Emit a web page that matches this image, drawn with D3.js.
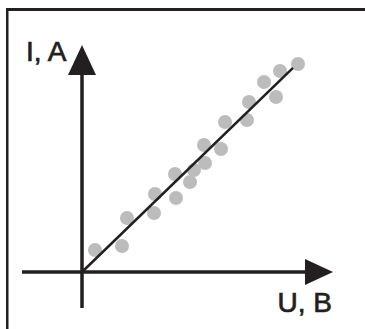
<!DOCTYPE html>
<html>
<head>
<meta charset="utf-8">
<script src="https://cdn.jsdelivr.net/npm/d3@7"></script>
<style>
  html, body { margin: 0; padding: 0; background: #fff; }
  svg { display: block; }
</style>
</head>
<body>
<svg id="chart" width="365" height="329"></svg>
<script>
// Measured voltage (U) and current (I) pairs, arbitrary units
const voltage = [5.2, 16, 18, 28.8, 29.2, 37.6, 37.2, 43.2, 44.8, 49.2, 48.8, 55.6, 57.2, 66, 66.8, 77.6, 72.8, 79.2, 86.4];
const current = [8.8, 10.4, 21.6, 23.6, 31.2, 29.6, 39.2, 36, 40.8, 43.6, 50.8, 49.2, 60, 60.8, 68, 70, 76, 80.4, 83.2];

// Linear fit through the origin
const fitSlope = 0.967;
const fitEnd = 84.4;

// Axis extents and labels
const xAxisRange = [-24, 100.4];
const yAxisRange = [-14.4, 90.8];
const xLabel = "U, B";
const yLabel = "I, A";

const svg = d3.select("#chart");
const ink = "#231f20";

const x = d3.scaleLinear().domain([0, 100]).range([82, 332]);
const y = d3.scaleLinear().domain([0, 100]).range([272, 22]);

// Frame: top and left rules
svg.append("rect").attr("x", 6).attr("y", 8).attr("width", 359).attr("height", 3).attr("fill", ink);
svg.append("rect").attr("x", 6).attr("y", 8).attr("width", 2.5).attr("height", 321).attr("fill", ink);

// Data points
svg.append("g").selectAll("circle")
  .data(voltage.map((u, i) => ({ u, i: current[i] })))
  .join("circle")
  .attr("cx", d => x(d.u))
  .attr("cy", d => y(d.i))
  .attr("r", 7)
  .attr("fill", "#bcbcbc");

// Axes
svg.append("line")
  .attr("x1", x(xAxisRange[0])).attr("x2", x(xAxisRange[1]) - 20)
  .attr("y1", y(0)).attr("y2", y(0))
  .attr("stroke", ink).attr("stroke-width", 3.5);
svg.append("line")
  .attr("x1", x(0)).attr("x2", x(0))
  .attr("y1", y(yAxisRange[0])).attr("y2", y(yAxisRange[1]) + 20)
  .attr("stroke", ink).attr("stroke-width", 3.5);

// Arrowheads
const xt = [x(xAxisRange[1]), y(0)];
svg.append("path")
  .attr("d", `M${xt[0]},${xt[1]} L${xt[0] - 28},${xt[1] - 13} L${xt[0] - 28},${xt[1] + 13} Z`)
  .attr("fill", ink);
const yt = [x(0), y(yAxisRange[1])];
svg.append("path")
  .attr("d", `M${yt[0]},${yt[1]} L${yt[0] - 14},${yt[1] + 30} L${yt[0] + 14},${yt[1] + 30} Z`)
  .attr("fill", ink);

// Fit line
svg.append("line")
  .attr("x1", x(0)).attr("y1", y(0))
  .attr("x2", x(fitEnd)).attr("y2", y(fitSlope * fitEnd))
  .attr("stroke", ink).attr("stroke-width", 2.5);

// Axis labels
svg.append("text")
  .attr("x", 26).attr("y", 61)
  .attr("font-family", "Liberation Sans, Arial, sans-serif")
  .attr("font-size", 28).attr("fill", ink)
  .attr("stroke", ink).attr("stroke-width", 0.7)
  .text(yLabel);
svg.append("text")
  .attr("x", 332).attr("y", 312)
  .attr("text-anchor", "end")
  .attr("font-family", "Liberation Sans, Arial, sans-serif")
  .attr("font-size", 28).attr("fill", ink)
  .attr("stroke", ink).attr("stroke-width", 0.7)
  .text(xLabel);
</script>
</body>
</html>
